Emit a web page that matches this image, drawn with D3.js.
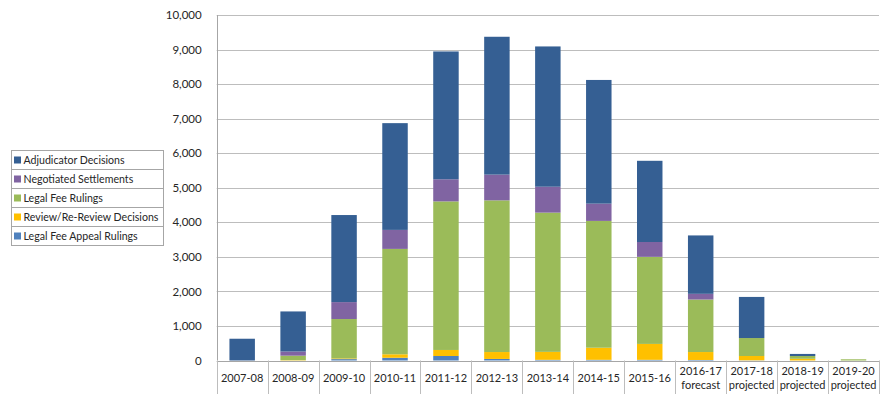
<!DOCTYPE html>
<html lang="en">
<head>
    <meta charset="UTF-8">
    <title>Decisions by year</title>
    <script src="https://cdnjs.cloudflare.com/ajax/libs/d3/7.9.0/d3.min.js"></script>
    <style>
        body {
            margin: 0;
            background: #fff;
            font-family: 'Lato', 'Open Sans', sans-serif;
        }
        .tick text, .cat-label, .legend-label {
            fill: #262626;
        }
    </style>
</head>
<body>
    <div id="root"></div>
    <script>
        // categories (second line of label after the |)
        const categories = ['2007-08', '2008-09', '2009-10', '2010-11', '2011-12', '2012-13', '2013-14',
            '2014-15', '2015-16', '2016-17|forecast', '2017-18|projected', '2018-19|projected', '2019-20|projected']

        // series, stacked bottom to top
        const appealRulings = [0, 0, 40, 80, 130, 45, 20, 20, 20, 15, 5, 0, 0]
        const reviewDecisions = [0, 10, 20, 100, 175, 200, 230, 350, 460, 230, 125, 50, 0]
        const legalFeeRulings = [0, 130, 1140, 3050, 4300, 4390, 4030, 3670, 2520, 1520, 520, 80, 35]
        const negotiated = [0, 120, 490, 550, 640, 745, 750, 500, 430, 165, 0, 0, 0]
        const adjudicator = [630, 1160, 2520, 3090, 3700, 3990, 4060, 3580, 2350, 1690, 1190, 60, 0]

        const yTicks = [0, 1000, 2000, 3000, 4000, 5000, 6000, 7000, 8000, 9000, 10000]

        const seriesNames = ['Legal Fee Appeal Rulings', 'Review/Re-Review Decisions', 'Legal Fee Rulings',
            'Negotiated Settlements', 'Adjudicator Decisions']
        const seriesColors = ['#4f81bd', '#ffc000', '#9bbb59', '#8064a2', '#355f93']
        const seriesValues = [appealRulings, reviewDecisions, legalFeeRulings, negotiated, adjudicator]

        const w = 890
        const h = 394
        const plot = { left: 216.7, right: 879, top: 15, bottom: 360.5 }

        const rows = categories.map((c, i) => {
            const r = { cat: c }
            seriesNames.forEach((s, k) => r[s] = seriesValues[k][i])
            return r
        })

        const svg = d3.select('#root').append('svg')
            .attr('width', w)
            .attr('height', h)

        const x = d3.scaleBand()
            .domain(categories)
            .range([plot.left, plot.right])
            .paddingInner(0.5)
            .paddingOuter(0.25)

        const y = d3.scaleLinear()
            .domain([0, 10000])
            .range([plot.bottom, plot.top])

        // gridlines
        svg.append('g')
            .selectAll('line')
            .data(yTicks.slice(1))
            .enter()
            .append('line')
            .attr('x1', plot.left)
            .attr('x2', plot.right)
            .attr('y1', d => Math.round(y(d)) + 0.5)
            .attr('y2', d => Math.round(y(d)) + 0.5)
            .style('stroke', '#bdbdbd')

        // y axis labels
        const yAxis = svg.append('g')
            .attr('transform', `translate(${plot.left - 12}, 0)`)
            .call(d3.axisLeft(y).tickValues(yTicks).tickFormat(d3.format(',')).tickSize(0))
        yAxis.select('.domain').remove()
        yAxis.selectAll('text')
            .style('font-size', '11.5px')
            .style('font-family', 'Lato, sans-serif')

        // left axis line
        svg.append('line')
            .attr('x1', Math.round(plot.left) + 0.5)
            .attr('x2', Math.round(plot.left) + 0.5)
            .attr('y1', plot.top)
            .attr('y2', plot.bottom)
            .style('stroke', '#a6a6a6')

        // stacked bars
        const stack = d3.stack().keys(seriesNames)(rows)
        svg.append('g')
            .selectAll('g')
            .data(stack)
            .enter()
            .append('g')
            .style('fill', (d, i) => seriesColors[i])
            .selectAll('rect')
            .data(d => d)
            .enter()
            .append('rect')
            .attr('x', d => x(d.data.cat))
            .attr('width', x.bandwidth())
            .attr('y', d => y(d[1]))
            .attr('height', d => Math.max(0, y(d[0]) - y(d[1])))

        // category axis: baseline + separators
        const step = x.step()
        const start = plot.left
        svg.append('line')
            .attr('x1', plot.left)
            .attr('x2', plot.right)
            .attr('y1', Math.round(plot.bottom) + 0.5)
            .attr('y2', Math.round(plot.bottom) + 0.5)
            .style('stroke', '#a6a6a6')
        svg.append('g')
            .selectAll('line')
            .data(d3.range(categories.length + 1))
            .enter()
            .append('line')
            .attr('x1', i => Math.round(start + i * step) + 0.5)
            .attr('x2', i => Math.round(start + i * step) + 0.5)
            .attr('y1', plot.bottom)
            .attr('y2', h)
            .style('stroke', '#bdbdbd')

        const labels = svg.append('g')
            .selectAll('text')
            .data(categories)
            .enter()
            .append('text')
            .attr('class', 'cat-label')
            .attr('x', d => x(d) + x.bandwidth() / 2)
            .attr('text-anchor', 'middle')
            .style('font-size', '11px')
        labels.each(function (d) {
            const parts = d.split('|')
            const t = d3.select(this)
            if (parts.length === 1) {
                t.append('tspan').attr('x', x(d) + x.bandwidth() / 2).attr('y', 382).text(parts[0])
            } else {
                t.append('tspan').attr('x', x(d) + x.bandwidth() / 2).attr('y', 375).text(parts[0])
                t.append('tspan').attr('x', x(d) + x.bandwidth() / 2).attr('y', 389).text(parts[1])
            }
        })

        // Legend
        const legendOrder = [4, 3, 2, 1, 0]
        const lg = svg.append('g').attr('transform', 'translate(11, 150)')
        const rowH = 19
        lg.append('rect')
            .attr('x', 0.5)
            .attr('y', 0.5)
            .attr('width', 152)
            .attr('height', rowH * 5)
            .style('fill', 'white')
            .style('stroke', '#a6a6a6')
        lg.selectAll('line')
            .data(d3.range(1, 5))
            .enter()
            .append('line')
            .attr('x1', 0.5)
            .attr('x2', 152.5)
            .attr('y1', i => i * rowH + 0.5)
            .attr('y2', i => i * rowH + 0.5)
            .style('stroke', '#a6a6a6')
        const items = lg.selectAll('.item')
            .data(legendOrder)
            .enter()
            .append('g')
            .attr('class', 'item')
            .attr('transform', (d, i) => `translate(0, ${i * rowH})`)
        items.append('rect')
            .attr('x', 3)
            .attr('y', 6.5)
            .attr('width', 7)
            .attr('height', 7)
            .style('fill', d => seriesColors[d])
        items.append('text')
            .attr('class', 'legend-label')
            .attr('x', 12.5)
            .attr('y', 14)
            .style('font-size', '10.6px')
            .text(d => seriesNames[d])
    </script>
</body>
</html>
